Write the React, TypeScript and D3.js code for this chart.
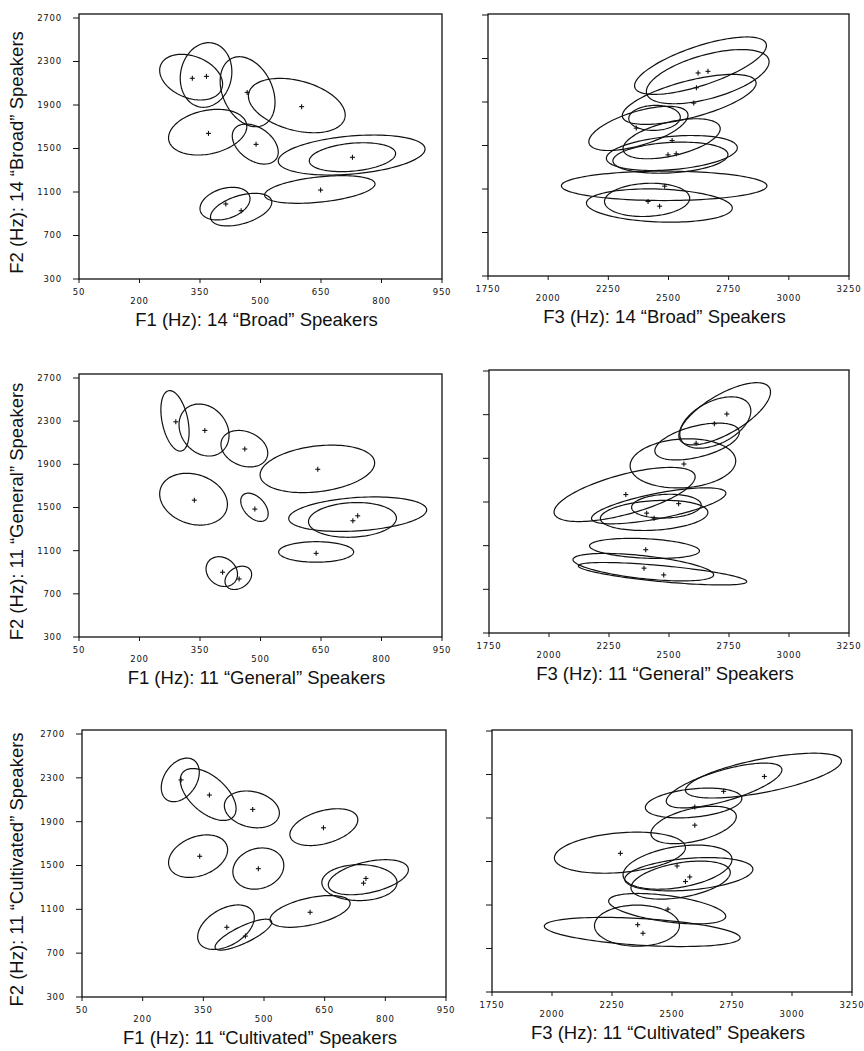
import React from "react";
import * as d3 from "d3";

const f1Ticks = [50, 200, 350, 500, 650, 800, 950];
const f3Ticks = [1750, 2000, 2250, 2500, 2750, 3000, 3250];
const f2Ticks = [300, 700, 1100, 1500, 1900, 2300, 2700];

// ellipses: [centre x, centre F2, half range x, half range F2, correlation]
const broadF1Ellipses = [
  [328, 2156, 78, 210, -0.3],
  [365, 2176, 64, 297, 0.1],
  [468, 2022, 68, 322, -0.3],
  [590, 1895, 120, 250, -0.35],
  [369, 1650, 97, 210, 0.25],
  [487, 1541, 57, 184, -0.4],
  [726, 1440, 182, 184, 0.3],
  [728, 1420, 107, 133, 0.25],
  [647, 1123, 137, 127, 0.4],
  [412, 993, 62, 150, 0.3],
  [452, 938, 76, 150, 0.45],
];
const broadF1Means = [
  [331, 2146], [366, 2163], [467, 2016], [602, 1885], [371, 1639], [489, 1538],
  [728, 1419], [649, 1118], [414, 990], [452, 928],
];

const broadF3Ellipses = [
  [2633, 2234, 274, 264, 0.7],
  [2663, 2133, 255, 249, 0.55],
  [2586, 1924, 278, 230, 0.65],
  [2442, 1754, 107, 115, 0.05],
  [2375, 1657, 206, 203, 0.6],
  [2513, 1562, 202, 184, 0.5],
  [2514, 1431, 272, 161, 0.3],
  [2508, 1388, 239, 143, 0.2],
  [2482, 1129, 427, 135, 0],
  [2411, 1000, 177, 153, 0.1],
  [2462, 948, 303, 153, -0.15],
];
const broadF3Means = [
  [2623, 2167], [2664, 2182], [2616, 2031], [2605, 1890], [2366, 1660], [2515, 1546],
  [2532, 1424], [2498, 1414], [2484, 1126], [2415, 985], [2463, 942],
];

const generalF1Ellipses = [
  [288, 2303, 35, 280, -0.37],
  [360, 2218, 62, 241, -0.2],
  [460, 2045, 58, 169, -0.24],
  [641, 1858, 142, 220, 0.25],
  [334, 1577, 84, 240, -0.2],
  [485, 1502, 34, 131, -0.45],
  [741, 1438, 171, 160, 0.25],
  [728, 1385, 109, 161, 0.1],
  [638, 1088, 93, 95, 0],
  [404, 906, 39, 138, -0.18],
  [445, 848, 33, 108, 0.3],
];
const generalF1Means = [
  [290, 2294], [362, 2214], [461, 2042], [642, 1854], [336, 1568], [486, 1485],
  [729, 1377], [741, 1423], [638, 1075], [406, 900], [447, 838],
];

const generalF3Ellipses = [
  [2732, 2308, 191, 285, 0.7],
  [2693, 2228, 148, 235, 0.45],
  [2617, 2054, 176, 169, 0.5],
  [2558, 1854, 220, 225, 0.1],
  [2315, 1569, 294, 248, 0.65],
  [2457, 1465, 280, 165, 0.7],
  [2489, 1462, 145, 109, 0.1],
  [2438, 1377, 224, 138, 0.2],
  [2398, 1075, 229, 92, -0.25],
  [2393, 903, 293, 126, -0.55],
  [2473, 843, 351, 103, -0.7],
];
const generalF3Means = [
  [2741, 2306], [2689, 2217], [2613, 2038], [2562, 1848], [2320, 1568], [2540, 1485],
  [2407, 1398], [2438, 1352], [2403, 1063], [2396, 894], [2478, 832],
];

const cultivatedF1Ellipses = [
  [293, 2281, 47, 199, 0.35],
  [362, 2148, 69, 237, -0.55],
  [470, 2012, 68, 168, -0.2],
  [648, 1850, 84, 168, 0.4],
  [337, 1585, 73, 194, 0.3],
  [486, 1472, 63, 188, 0.15],
  [758, 1393, 99, 160, 0.43],
  [736, 1344, 93, 164, 0],
  [614, 1081, 99, 145, 0.5],
  [406, 937, 70, 203, 0.43],
  [449, 869, 70, 141, 0.8],
];
const cultivatedF1Means = [
  [295, 2281], [365, 2143], [472, 2012], [647, 1844], [341, 1584], [486, 1471],
  [752, 1382], [746, 1339], [614, 1073], [408, 936], [454, 856],
];

const cultivatedF3Ellipses = [
  [2881, 2290, 325, 206, 0.65],
  [2717, 2199, 241, 206, 0.7],
  [2590, 2038, 201, 137, 0.3],
  [2590, 1836, 178, 172, 0.45],
  [2283, 1581, 273, 189, 0.25],
  [2523, 1448, 227, 203, 0.35],
  [2570, 1383, 267, 153, 0.3],
  [2536, 1329, 207, 175, 0.4],
  [2480, 1066, 244, 140, -0.5],
  [2376, 852, 408, 134, -0.4],
  [2354, 910, 177, 189, 0],
];
const cultivatedF3Means = [
  [2885, 2282], [2715, 2145], [2595, 2002], [2595, 1834], [2285, 1575], [2521, 1459],
  [2574, 1358], [2556, 1316], [2483, 1062], [2379, 840], [2357, 919],
];

const panels = [
  { id: "bF1", left: true, ticks: f1Ticks, box: [79, 14, 442, 279], ell: broadF1Ellipses, means: broadF1Means,
    xTitle: "F1 (Hz): 14 \u201cBroad\u201d Speakers", yTitle: "F2 (Hz): 14 \u201cBroad\u201d Speakers" },
  { id: "bF3", left: false, ticks: f3Ticks, box: [488, 14, 849, 276], ell: broadF3Ellipses, means: broadF3Means,
    xTitle: "F3 (Hz): 14 \u201cBroad\u201d Speakers" },
  { id: "gF1", left: true, ticks: f1Ticks, box: [79, 374, 442, 637], ell: generalF1Ellipses, means: generalF1Means,
    xTitle: "F1 (Hz): 11 \u201cGeneral\u201d Speakers", yTitle: "F2 (Hz): 11 \u201cGeneral\u201d Speakers" },
  { id: "gF3", left: false, ticks: f3Ticks, box: [489, 370, 849, 633], ell: generalF3Ellipses, means: generalF3Means,
    xTitle: "F3 (Hz): 11 \u201cGeneral\u201d Speakers" },
  { id: "cF1", left: true, ticks: f1Ticks, box: [82, 730, 446, 997], ell: cultivatedF1Ellipses, means: cultivatedF1Means,
    xTitle: "F1 (Hz): 11 \u201cCultivated\u201d Speakers", yTitle: "F2 (Hz): 11 \u201cCultivated\u201d Speakers" },
  { id: "cF3", left: false, ticks: f3Ticks, box: [492, 730, 852, 992], ell: cultivatedF3Ellipses, means: cultivatedF3Means,
    xTitle: "F3 (Hz): 11 \u201cCultivated\u201d Speakers" },
];

const tickFont = "'DejaVu Sans', sans-serif";
const titleFont = "'Liberation Sans', Arial, sans-serif";

function ellipsePath(e: number[], x: any, y: any) {
  const [cx, cy, sx, sy, r] = e;
  const k = Math.sqrt(1 - r * r);
  const pts = d3.range(0, 2 * Math.PI, Math.PI / 60).map((t) => [
    x(cx + sx * Math.cos(t)),
    y(cy + sy * (r * Math.cos(t) + k * Math.sin(t))),
  ]);
  return d3.line().curve(d3.curveLinearClosed)(pts as [number, number][]) || "";
}

function Panel({ p }: { p: any }) {
  const [x0, y0, x1, y1] = p.box;
  const x = d3.scaleLinear().domain(d3.extent(p.ticks) as [number, number]).range([x0, x1]);
  const y = d3.scaleLinear().domain([300, 2700]).range([y1, y0 + (p.left ? 4 : 1)]);
  const cxMid = (x0 + x1) / 2;
  return (
    <g>
      <rect x={x0} y={y0} width={x1 - x0} height={y1 - y0} fill="none" stroke="#111" strokeWidth={1.3} />
      {f2Ticks.map((t) => (
        <g key={"y" + t}>
          <line x1={x0 - 6} x2={x0} y1={y(t)} y2={y(t)} stroke="#111" strokeWidth={1} />
          {p.left && (
            <text x={x0 - 17} y={y(t)} dy="0.35em" textAnchor="end" fontFamily={tickFont}
              fontSize={8.5} letterSpacing={0.8} fill="#111">{t}</text>
          )}
        </g>
      ))}
      {p.ticks.map((t: number, i: number) => (
        <g key={"x" + t}>
          <line x1={x(t)} x2={x(t)} y1={y1} y2={y1 + 4} stroke="#111" strokeWidth={1} />
          <text x={x(t)} y={y1 + (i % 2 === 0 ? 13 : 22)} dy="0.35em" textAnchor="middle"
            fontFamily={tickFont} fontSize={8.5} letterSpacing={0.8} fill="#111">{t}</text>
        </g>
      ))}
      {p.ell.map((e: number[], i: number) => (
        <path key={"e" + i} d={ellipsePath(e, x, y)} fill="none" stroke="#111" strokeWidth={1.2} />
      ))}
      {p.means.map((m: number[], i: number) => (
        <g key={"m" + i} stroke="#111" strokeWidth={1.1}>
          <line x1={x(m[0]) - 2.5} x2={x(m[0]) + 2.5} y1={y(m[1])} y2={y(m[1])} />
          <line x1={x(m[0])} x2={x(m[0])} y1={y(m[1]) - 2.5} y2={y(m[1]) + 2.5} />
        </g>
      ))}
      <text x={cxMid - 4} y={y1 + 47} textAnchor="middle" fontFamily={titleFont} fontSize={18.5} fill="#111">
        {p.xTitle}
      </text>
      {p.yTitle && (
        <text transform={`translate(23,${(y0 + y1) / 2 + 6}) rotate(-90)`} textAnchor="middle"
          fontFamily={titleFont} fontSize={18.5} fill="#111">{p.yTitle}</text>
      )}
    </g>
  );
}

export default function App() {
  return (
    <svg width={864} height={1051} style={{ position: "absolute", left: 0, top: 0, background: "#fff" }}>
      <rect width={864} height={1051} fill="#fff" />
      {panels.map((p) => (
        <Panel key={p.id} p={p} />
      ))}
    </svg>
  );
}
